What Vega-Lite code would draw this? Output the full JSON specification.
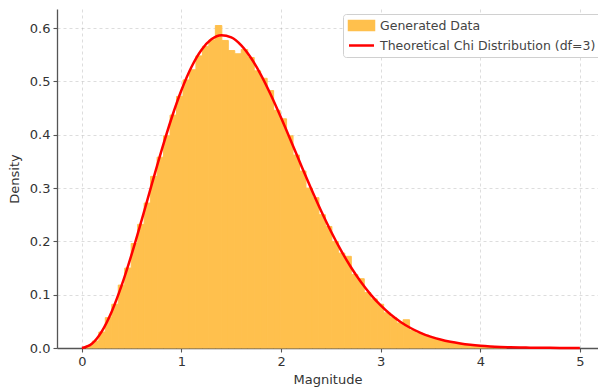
{
  "$schema": "https://vega.github.io/schema/vega-lite/v6.json",
  "width": 541,
  "height": 339,
  "autosize": {"type": "none"},
  "padding": {"left": 57, "top": 9, "right": 0, "bottom": 41},
  "background": "white",
  "config": {
    "font": "DejaVu Sans",
    "view": {"stroke": null},
    "axis": {
      "zindex": 1,
      "domainColor": "#555555",
      "domainWidth": 1.3,
      "tickColor": "#555555",
      "tickWidth": 1.1,
      "tickSize": 4,
      "labelColor": "#333333",
      "labelFontSize": 13,
      "labelFont": "DejaVu Sans",
      "titleFont": "DejaVu Sans",
      "titleFontSize": 13,
      "titleFontWeight": "normal",
      "titleColor": "#333333",
      "gridColor": "#aaaaaa",
      "gridOpacity": 0.5,
      "gridDash": [3, 3],
      "gridWidth": 0.8
    }
  },
  "datasets": {
    "hist": [
      {"x0": 0.04, "x1": 0.105, "density": 0.004},
      {"x0": 0.105, "x1": 0.17, "density": 0.013},
      {"x0": 0.17, "x1": 0.235, "density": 0.030},
      {"x0": 0.235, "x1": 0.30, "density": 0.057},
      {"x0": 0.30, "x1": 0.365, "density": 0.082},
      {"x0": 0.365, "x1": 0.43, "density": 0.118},
      {"x0": 0.43, "x1": 0.495, "density": 0.150},
      {"x0": 0.495, "x1": 0.56, "density": 0.196},
      {"x0": 0.56, "x1": 0.625, "density": 0.232},
      {"x0": 0.625, "x1": 0.69, "density": 0.272},
      {"x0": 0.69, "x1": 0.755, "density": 0.322},
      {"x0": 0.755, "x1": 0.82, "density": 0.358},
      {"x0": 0.82, "x1": 0.885, "density": 0.398},
      {"x0": 0.885, "x1": 0.95, "density": 0.437},
      {"x0": 0.95, "x1": 1.015, "density": 0.472},
      {"x0": 1.015, "x1": 1.08, "density": 0.503},
      {"x0": 1.08, "x1": 1.145, "density": 0.522},
      {"x0": 1.145, "x1": 1.21, "density": 0.548},
      {"x0": 1.21, "x1": 1.275, "density": 0.566},
      {"x0": 1.275, "x1": 1.34, "density": 0.578},
      {"x0": 1.34, "x1": 1.405, "density": 0.605},
      {"x0": 1.405, "x1": 1.47, "density": 0.577},
      {"x0": 1.47, "x1": 1.535, "density": 0.558},
      {"x0": 1.535, "x1": 1.60, "density": 0.552},
      {"x0": 1.60, "x1": 1.665, "density": 0.560},
      {"x0": 1.665, "x1": 1.73, "density": 0.545},
      {"x0": 1.73, "x1": 1.795, "density": 0.520},
      {"x0": 1.795, "x1": 1.86, "density": 0.506},
      {"x0": 1.86, "x1": 1.925, "density": 0.483},
      {"x0": 1.925, "x1": 1.99, "density": 0.446},
      {"x0": 1.99, "x1": 2.055, "density": 0.430},
      {"x0": 2.055, "x1": 2.12, "density": 0.398},
      {"x0": 2.12, "x1": 2.185, "density": 0.362},
      {"x0": 2.185, "x1": 2.25, "density": 0.332},
      {"x0": 2.25, "x1": 2.315, "density": 0.300},
      {"x0": 2.315, "x1": 2.38, "density": 0.282},
      {"x0": 2.38, "x1": 2.445, "density": 0.250},
      {"x0": 2.445, "x1": 2.51, "density": 0.228},
      {"x0": 2.51, "x1": 2.575, "density": 0.200},
      {"x0": 2.575, "x1": 2.64, "density": 0.178},
      {"x0": 2.64, "x1": 2.705, "density": 0.172},
      {"x0": 2.705, "x1": 2.77, "density": 0.138},
      {"x0": 2.77, "x1": 2.835, "density": 0.130},
      {"x0": 2.835, "x1": 2.90, "density": 0.104},
      {"x0": 2.90, "x1": 2.965, "density": 0.092},
      {"x0": 2.965, "x1": 3.03, "density": 0.082},
      {"x0": 3.03, "x1": 3.095, "density": 0.066},
      {"x0": 3.095, "x1": 3.16, "density": 0.057},
      {"x0": 3.16, "x1": 3.225, "density": 0.047},
      {"x0": 3.225, "x1": 3.29, "density": 0.053},
      {"x0": 3.29, "x1": 3.355, "density": 0.033},
      {"x0": 3.355, "x1": 3.42, "density": 0.028},
      {"x0": 3.42, "x1": 3.485, "density": 0.024},
      {"x0": 3.485, "x1": 3.55, "density": 0.020},
      {"x0": 3.55, "x1": 3.615, "density": 0.016},
      {"x0": 3.615, "x1": 3.68, "density": 0.013},
      {"x0": 3.68, "x1": 3.745, "density": 0.011},
      {"x0": 3.745, "x1": 3.81, "density": 0.009},
      {"x0": 3.81, "x1": 3.875, "density": 0.007},
      {"x0": 3.875, "x1": 3.94, "density": 0.006},
      {"x0": 3.94, "x1": 4.005, "density": 0.005},
      {"x0": 4.005, "x1": 4.07, "density": 0.004},
      {"x0": 4.07, "x1": 4.135, "density": 0.003},
      {"x0": 4.135, "x1": 4.20, "density": 0.002},
      {"x0": 4.20, "x1": 4.265, "density": 0.0015}
    ],
    "curve": [
      {"x": 0.0, "pdf": 0.0},
      {"x": 0.1, "pdf": 0.00794},
      {"x": 0.2, "pdf": 0.03128},
      {"x": 0.3, "pdf": 0.06865},
      {"x": 0.4, "pdf": 0.11784},
      {"x": 0.5, "pdf": 0.17603},
      {"x": 0.6, "pdf": 0.23993},
      {"x": 0.7, "pdf": 0.30600},
      {"x": 0.8, "pdf": 0.37078},
      {"x": 0.9, "pdf": 0.43105},
      {"x": 1.0, "pdf": 0.48394},
      {"x": 1.1, "pdf": 0.52722},
      {"x": 1.2, "pdf": 0.55924},
      {"x": 1.3, "pdf": 0.57922},
      {"x": 1.4, "pdf": 0.58693},
      {"x": 1.5, "pdf": 0.58283},
      {"x": 1.6, "pdf": 0.56791},
      {"x": 1.7, "pdf": 0.54361},
      {"x": 1.8, "pdf": 0.51160},
      {"x": 1.9, "pdf": 0.47373},
      {"x": 2.0, "pdf": 0.43193},
      {"x": 2.1, "pdf": 0.38794},
      {"x": 2.2, "pdf": 0.34339},
      {"x": 2.3, "pdf": 0.29969},
      {"x": 2.4, "pdf": 0.25796},
      {"x": 2.5, "pdf": 0.21911},
      {"x": 2.6, "pdf": 0.18365},
      {"x": 2.7, "pdf": 0.15193},
      {"x": 2.8, "pdf": 0.12410},
      {"x": 2.9, "pdf": 0.10012},
      {"x": 3.0, "pdf": 0.07977},
      {"x": 3.1, "pdf": 0.06279},
      {"x": 3.2, "pdf": 0.04883},
      {"x": 3.3, "pdf": 0.03751},
      {"x": 3.4, "pdf": 0.02849},
      {"x": 3.5, "pdf": 0.02138},
      {"x": 3.6, "pdf": 0.01586},
      {"x": 3.7, "pdf": 0.01163},
      {"x": 3.8, "pdf": 0.00843},
      {"x": 3.9, "pdf": 0.00605},
      {"x": 4.0, "pdf": 0.00428},
      {"x": 4.1, "pdf": 0.00300},
      {"x": 4.2, "pdf": 0.00208},
      {"x": 4.3, "pdf": 0.00143},
      {"x": 4.4, "pdf": 0.00097},
      {"x": 4.5, "pdf": 0.00065},
      {"x": 4.6, "pdf": 0.00043},
      {"x": 4.7, "pdf": 0.00028},
      {"x": 4.8, "pdf": 0.00018},
      {"x": 4.9, "pdf": 0.00012},
      {"x": 5.0, "pdf": 0.00007}
    ]
  },
  "layer": [
    {
      "data": {"name": "hist"},
      "mark": {"type": "bar", "stroke": "#FFC04D", "strokeWidth": 1},
      "encoding": {
        "x": {
          "field": "x0", "type": "quantitative",
          "scale": {"domain": [-0.25, 5.182], "nice": false, "zero": false},
          "axis": {"values": [0, 1, 2, 3, 4, 5], "format": "d", "title": "Magnitude", "grid": true, "labelPadding": 3, "titlePadding": 5}
        },
        "x2": {"field": "x1"},
        "y": {
          "field": "density", "type": "quantitative",
          "scale": {"domain": [0, 0.636], "nice": false},
          "axis": {"values": [0, 0.1, 0.2, 0.3, 0.4, 0.5, 0.6], "format": ".1f", "title": "Density", "grid": true, "labelPadding": 3, "titlePadding": 8}
        },
        "y2": {"datum": 0},
        "color": {
          "datum": "Generated Data",
          "type": "nominal",
          "scale": {"domain": ["Generated Data", "Theoretical Chi Distribution (df=3)"], "range": ["#FFC04D", "#FF0000"]},
          "legend": {
            "orient": "none",
            "legendX": 286,
            "legendY": 5,
            "title": null,
            "zindex": 2,
            "fillColor": "white",
            "strokeColor": "#d0d0d0",
            "cornerRadius": 3,
            "padding": 5,
            "rowPadding": 4,
            "symbolSize": 100,
            "symbolOffset": 7,
            "labelOffset": 12,
            "labelFontSize": 12.5,
            "labelColor": "#444444",
            "labelFont": "DejaVu Sans",
            "labelLimit": 400,
            "encode": {
              "symbols": {
                "update": {
                  "shape": {"signal": "datum.value === 'Generated Data' ? 'M-2.5,-0.9H2.5V0.9H-2.5Z' : 'M-2.5,0H2.5'"},
                  "fill": {"signal": "datum.value === 'Generated Data' ? '#FFC04D' : 'transparent'"},
                  "stroke": {"signal": "datum.value === 'Generated Data' ? 'transparent' : '#FF0000'"},
                  "strokeWidth": {"value": 2.5},
                  "opacity": {"value": 1}
                }
              }
            }
          }
        }
      }
    },
    {
      "data": {"name": "curve"},
      "mark": {"type": "line", "strokeWidth": 2.5, "interpolate": "monotone"},
      "encoding": {
        "x": {"field": "x", "type": "quantitative"},
        "y": {"field": "pdf", "type": "quantitative"},
        "color": {
          "datum": "Theoretical Chi Distribution (df=3)",
          "type": "nominal",
          "legend": {
            "orient": "none",
            "legendX": 286,
            "legendY": 5,
            "title": null,
            "zindex": 2,
            "fillColor": "white",
            "strokeColor": "#d0d0d0",
            "cornerRadius": 3,
            "padding": 5,
            "rowPadding": 4,
            "symbolSize": 100,
            "symbolOffset": 7,
            "labelOffset": 12,
            "labelFontSize": 12.5,
            "labelColor": "#444444",
            "labelFont": "DejaVu Sans",
            "labelLimit": 400,
            "encode": {
              "symbols": {
                "update": {
                  "shape": {"signal": "datum.value === 'Generated Data' ? 'M-2.5,-0.9H2.5V0.9H-2.5Z' : 'M-2.5,0H2.5'"},
                  "fill": {"signal": "datum.value === 'Generated Data' ? '#FFC04D' : 'transparent'"},
                  "stroke": {"signal": "datum.value === 'Generated Data' ? 'transparent' : '#FF0000'"},
                  "strokeWidth": {"value": 2.5},
                  "opacity": {"value": 1}
                }
              }
            }
          }
        }
      }
    }
  ]
}
